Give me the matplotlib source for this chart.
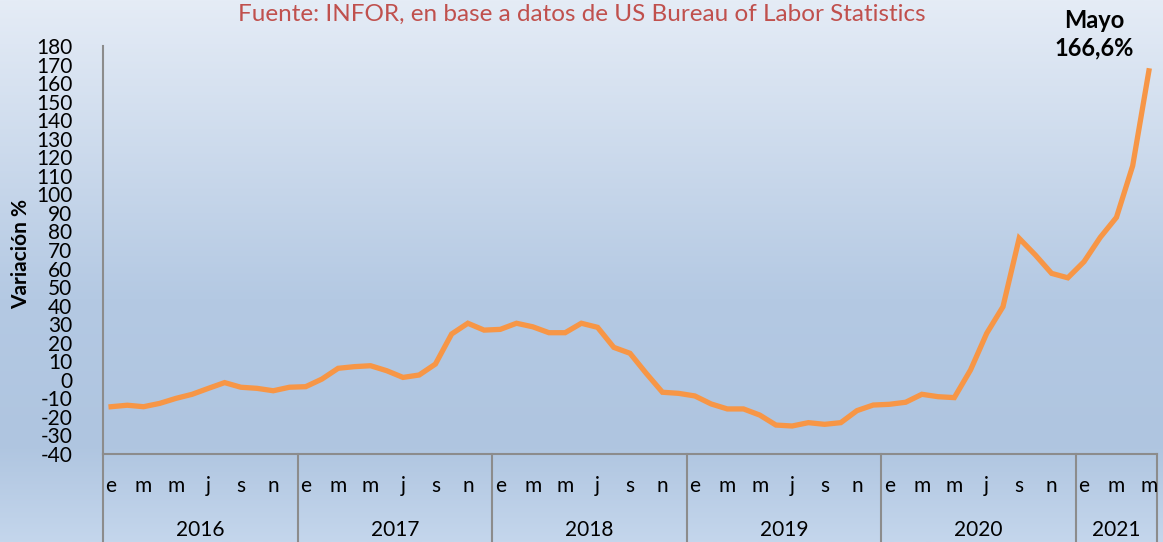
import matplotlib.pyplot as plt
import numpy as np
from matplotlib.colors import LinearSegmentedColormap

# month labels (every other month shown), years, monthly variation %
month_labels = ['e', 'm', 'm', 'j', 's', 'n']
years = ['2016', '2017', '2018', '2019', '2020', '2021']
months_per_year = [12, 12, 12, 12, 12, 5]

variacion = [
    -14.5, -13.7, -14.5, -12.7, -10.0, -7.8, -4.6, -1.5, -4.0, -4.6, -5.9, -4.0,   # 2016
    -3.7, 0.4, 6.2, 7.1, 7.6, 4.9, 1.3, 2.6, 8.5, 24.7, 30.5, 26.8,               # 2017
    27.2, 30.5, 28.6, 25.4, 25.4, 30.5, 28.3, 17.5, 14.3, 3.5, -6.7, -7.3,        # 2018
    -8.7, -13.0, -15.7, -15.7, -19.0, -24.4, -24.9, -23.1, -24.0, -23.1, -16.6, -13.6,  # 2019
    -13.2, -12.1, -7.8, -9.1, -9.6, 5.3, 25.1, 39.4, 76.3, 67.3, 57.4, 55.0,      # 2020
    63.7, 76.8, 87.6, 115.4, 166.6,                                               # 2021
]

font = 'Lato'
line_color = '#f79646'
sep_color = '#8c8c8c'

fig = plt.figure(figsize=(11.63, 5.42), dpi=100)

# gradient background
bg = fig.add_axes([0, 0, 1, 1], zorder=-1)
cmap = LinearSegmentedColormap.from_list(
    'bg', [(0.0, '#e5ecf6'), (0.55, '#b4c9e3'), (0.82, '#afc5e0'), (1.0, '#c4d6ec')])
grad = np.linspace(0, 1, 256).reshape(-1, 1)
bg.imshow(grad, aspect='auto', cmap=cmap, extent=[0, 1, 0, 1], origin='upper')
bg.axis('off')

ax = fig.add_axes([103 / 1163, 88 / 542, 1054 / 1163, 408 / 542])
ax.set_facecolor('none')

x = np.arange(len(variacion))
ax.plot(x, variacion, color=line_color, linewidth=3.8, solid_joinstyle='miter', zorder=3)

ax.set_xlim(-0.5, len(variacion) - 0.5)
ax.set_ylim(-40, 180)
ax.set_yticks(range(-40, 181, 10))
ax.set_yticklabels([str(v) for v in range(-40, 181, 10)], fontfamily=font, fontsize=15)
ax.tick_params(axis='y', length=0, pad=22)
ax.set_xticks([])

for s in ['top', 'right']:
    ax.spines[s].set_visible(False)
for s in ['left', 'bottom']:
    ax.spines[s].set_color(sep_color)
    ax.spines[s].set_linewidth(1.5)

ax.set_ylabel('Variación %', fontfamily=font, fontsize=15, fontweight='bold')
ax.yaxis.set_label_coords(-0.068, 0.49)

# two-level category axis
trans = ax.get_xaxis_transform()
start = 0
bounds = [-0.5]
for yr, n in zip(years, months_per_year):
    for k in range(0, n, 2):
        ax.text(start + k, -0.078, month_labels[k // 2], transform=trans,
                ha='center', va='center', fontfamily=font, fontsize=15)
    ax.text(start + (n - 1) / 2, -0.187, yr, transform=trans,
            ha='center', va='center', fontfamily=font, fontsize=15)
    start += n
    bounds.append(start - 0.5)
for b in bounds:
    ax.plot([b, b], [0, -0.22], transform=trans, color=sep_color, lw=1.5, clip_on=False)

fig.text(0.5, 0.974, 'Fuente: INFOR, en base a datos de US Bureau of Labor Statistics',
         ha='center', va='center', color='#c0504d', fontfamily=font, fontsize=17.5)

ax.annotate('Mayo\n166,6%', xy=(len(variacion) - 1, variacion[-1]), xycoords='data',
            xytext=(1094 / 1163, 0.937), textcoords='figure fraction',
            ha='center', va='center', fontfamily=font, fontsize=17, fontweight='bold',
            linespacing=1.25)

fig.savefig('out.png', dpi=100)
